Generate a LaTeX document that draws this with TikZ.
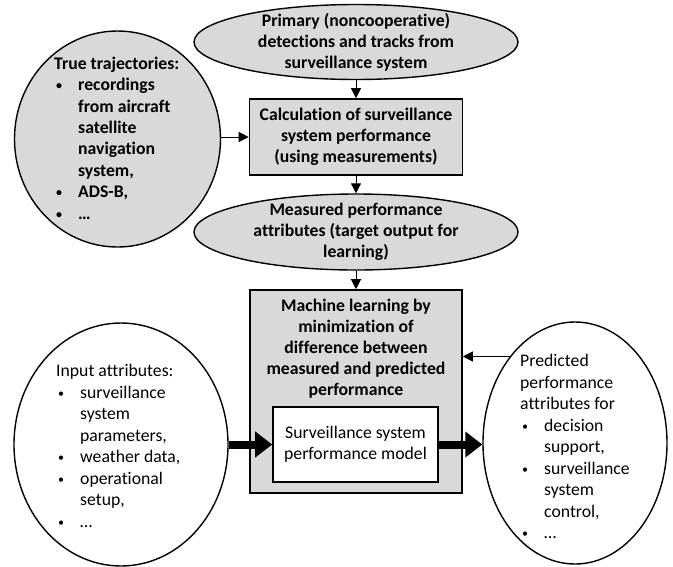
\documentclass[tikz,border=0pt]{standalone}
\usepackage{fontspec}
\setmainfont[Ligatures=NoCommon]{Carlito}
\usepackage{tikz}
\usetikzlibrary{shapes.geometric,arrows.meta,positioning}

\newcommand\bul[1]{\hspace*{#1}\makebox[22pt][l]{\raisebox{1pt}{\fontsize{12}{12}\selectfont\textbullet}}}
\newcommand\ind[1]{\hspace*{#1}}

\tikzset{
  grayell/.style={draw, line width=1.4pt, fill=black!15, ellipse, inner sep=0pt},
  whiteell/.style={draw, line width=1.4pt, fill=white, ellipse, inner sep=0pt},
  graybox/.style={draw, line width=1.6pt, fill=black!15, inner sep=0pt},
  whitebox/.style={draw, line width=1.6pt, fill=white, inner sep=0pt},
  btxt/.style={align=center, inner sep=0pt, font=\fontsize{17.7}{21}\selectfont\bfseries},
  ltxt/.style={align=left, inner sep=0pt, anchor=west, font=\fontsize{17.7}{21.5}\selectfont},
  thinarrow/.style={-{Triangle[length=10pt,width=10pt]}, line width=1pt},
  fatarrow/.style={-{Triangle[length=17pt,width=25pt]}, line width=8pt},
}

\begin{document}
\begin{tikzpicture}[x=1pt,y=-1pt]
\useasboundingbox (0,0) rectangle (673,566);

% central column
\node[grayell, minimum width=324pt, minimum height=75pt] (prim) at (356,42) {};
\node[btxt] (prim-t) at (prim) {Primary (noncooperative)\\detections and tracks from\\surveillance system};

\node[graybox, minimum width=213pt, minimum height=76pt] (calc) at (356,137) {};
\node[btxt] (calc-t) at (calc) {Calculation of surveillance\\system performance\\(using measurements)};

\node[grayell, minimum width=324pt, minimum height=76pt] (meas) at (356,232) {};
\node[btxt] (meas-t) at (meas) {Measured performance\\attributes (target output for\\learning)};

\node[graybox, minimum width=212pt, minimum height=203pt] (ml) at (356,391.5) {};
\node[btxt] (ml-t) at (356,349) {Machine learning by\\minimization of\\difference between\\measured and predicted\\performance};

\node[whitebox, minimum width=165pt, minimum height=75pt] (model) at (355.5,444.5) {};
\node[btxt, font=\fontsize{17.7}{21}\selectfont] (model-t) at (model) {Surveillance system\\performance model};

% side ellipses
\node[grayell, minimum width=206pt, minimum height=216pt] (traj) at (117.5,139) {};
\node[ltxt, font=\fontsize{17.7}{21.4}\selectfont\bfseries] (traj-t) at (54,138)
  {True trajectories:\\\bul{2pt}recordings\\\ind{24pt}from aircraft\\\ind{24pt}satellite\\\ind{24pt}navigation\\\ind{24pt}system,\\\bul{2pt}ADS-B,\\\bul{2pt}\dots};

\node[whiteell, minimum width=214pt, minimum height=243pt] (inp) at (121,444.5) {};
\node[ltxt] (inp-t) at (56,446)
  {Input attributes:\\\bul{2pt}surveillance\\\ind{24pt}system\\\ind{24pt}parameters,\\\bul{2pt}weather data,\\\bul{2pt}operational\\\ind{24pt}setup,\\\bul{2pt}\dots};

\node[whiteell, minimum width=184pt, minimum height=242pt] (pred) at (575,443) {};
\node[ltxt] (pred-t) at (520,446.5)
  {Predicted\\performance\\attributes for\\\bul{2pt}decision\\\ind{24pt}support,\\\bul{2pt}surveillance\\\ind{24pt}system\\\ind{24pt}control,\\\bul{2pt}\dots};

% connectors
\draw[thinarrow] (prim) -- (calc);
\draw[thinarrow] (calc) -- (meas);
\draw[thinarrow] (meas) -- (ml);
\draw[thinarrow] (traj.east |- calc.west) -- (calc.west);
\draw[thinarrow] (pred.127.6) -- (pred.127.6 -| ml.east);
\draw[fatarrow] (inp.east |- model.west) -- (model.west);
\draw[fatarrow] (model.east) -- (pred.west |- model.east);
\end{tikzpicture}
\end{document}
